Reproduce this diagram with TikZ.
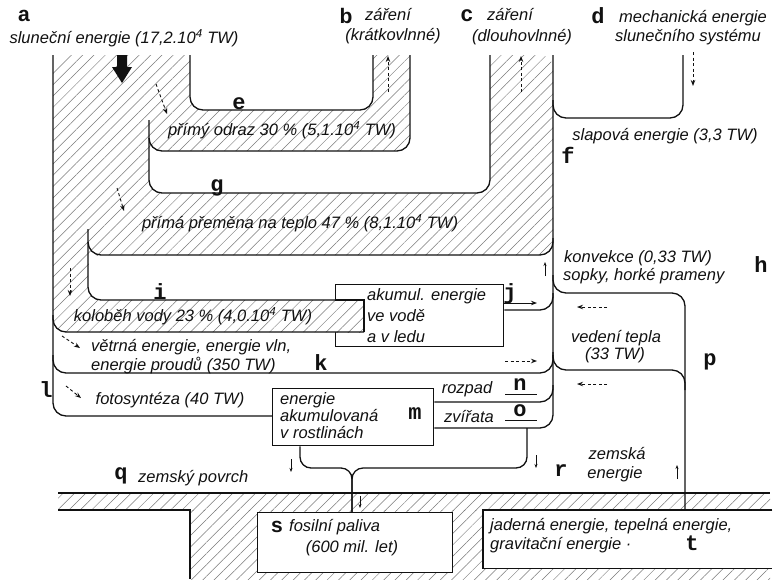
\documentclass[tikz,border=0pt]{standalone}
\usepackage{fontspec}
\setmainfont{Liberation Sans}
\setsansfont{Liberation Sans}
\setmonofont{Liberation Mono}
\usepackage{tikz}
\usetikzlibrary{arrows.meta,patterns.meta}
\definecolor{Ink}{HTML}{111111}
\definecolor{Hatch}{HTML}{7A7A7A}

\begin{document}
\begin{tikzpicture}[x=1pt,y=-1pt,
  hranice/.style={draw=Ink,line width=1.3pt,rounded corners=13pt},
  rovna/.style={draw=Ink,line width=1.3pt},
  srafa/.style={pattern={Lines[angle=45,distance=8pt,line width=0.5pt]},pattern color=Hatch},
  popis/.style={font=\fontsize{16.5}{19}\selectfont\itshape,text=Ink,inner sep=0pt},
  popisl/.style={popis,anchor=west,align=left},
  pismeno/.style={font=\fontsize{22}{22}\selectfont\ttfamily\bfseries,text=Ink,inner sep=0pt},
  pismenosf/.style={font=\fontsize{21}{21}\selectfont\sffamily\bfseries,text=Ink,inner sep=0pt},
  schranka/.style={draw=Ink,line width=1.3pt,fill=white,anchor=north west,inner sep=0pt},
  sipka/.style={draw=Ink,line width=0.9pt,-{Stealth[length=6pt,width=4.5pt]}},
  csipka/.style={sipka,dash pattern=on 3pt off 2.5pt},
  drobna/.style={draw=Ink,line width=1pt,-{Stealth[length=4pt,width=3pt]}}
]
\useasboundingbox (0,0) rectangle (778,579);
\fill[white] (0,0) rectangle (778,579);

\fill[srafa] (58,493) rectangle (770,510);
\fill[srafa] (190,510) rectangle (770,579);

\node[schranka,minimum width=168pt,minimum height=62pt] (akum) at (335,284) {};
\node[schranka,minimum width=161pt,minimum height=57pt] (rostl) at (272,388) {};
\node[schranka,minimum width=195pt,minimum height=60pt] (fosil) at (257,512) {};
\node[fill=white,anchor=north west,inner sep=0pt,minimum width=289pt,minimum height=58pt] (zemske) at (483,510) {};
\draw[rovna] (zemske.north east) -- (zemske.north west) -- (zemske.south west) -- (zemske.south east);

\path[srafa,preaction={fill=white},rounded corners=13pt] (364,332) -- (53,332) -- (53,55) -- (553,55) -- (553,255) -- (88,255) -- (88,300) -- (364,300) -- (364,332);
\path[srafa,preaction={fill=white}] (330,300) rectangle (364,332);
\fill[white,rounded corners=13pt] (190,40) -- (190,110) -- (373,110) -- (373,40) -- cycle;
\fill[white,rounded corners=13pt] (149,151) -- (410,151) -- (410,40) -- (490,40) -- (490,193) -- (149,193) -- (149,151);

\draw[hranice] (53,55) -- (53,416) -- (rostl.west |- 0,416);
\draw[hranice] (190,55) -- (190,110) -- (373,110) -- (373,55);
\draw[hranice] (149,120) -- (149,151) -- (410,151) -- (410,55);
\draw[hranice] (149,138) -- (149,193) -- (490,193) -- (490,55);
\draw[hranice] (553,55) -- (553,428) -- (rostl.east |- 0,428);
\draw[hranice] (88,229) -- (88,255) -- (553,255) -- (553,238);
\draw[hranice] (88,242) -- (88,300) -- (akum.west |- 0,300);
\draw[rovna] (akum.west |- 0,300) -- (364,300) -- (364,332);
\draw[hranice] (53,315) -- (53,332) -- (364,332);
\draw[hranice] (akum.east |- 0,310) -- (553,310) -- (553,293);
\draw[hranice] (53,355) -- (53,373) -- (553,373) -- (553,355);
\draw[hranice] (rostl.east |- 0,402) -- (553,402) -- (553,385);
\draw[hranice] (553,275) -- (553,293) -- (685,293) -- (685,0 |- zemske.north);
\draw[hranice] (553,352) -- (553,370) -- (685,370) -- (685,390);
\draw[hranice] (553,100) -- (553,118) -- (683,118) -- (683,55);
\draw[hranice,rounded corners=11pt] (rostl.south -| 300,0) -- (300,468) -- (352,468) -- (352,0 |- fosil.north);
\draw[hranice,rounded corners=11pt] (527,428) -- (527,468) -- (352,468) -- (352,0 |- fosil.north);

\draw[rovna] (58,493) -- (770,493);
\draw[rovna] (58,510) -- (190,510) -- (190,579);

\fill[Ink] (117,55) -- (127,55) -- (127,67) -- (132,67) -- (122,83) -- (112,67) -- (117,67) -- cycle;
\draw[csipka] (388,92) -- (388,56);
\draw[csipka] (521,92) -- (521,56);
\draw[csipka] (693,52) -- (693,86);
\draw[csipka] (156,84) -- (167,114);
\draw[csipka] (117,188) -- (124,211);
\draw[csipka] (70,268) -- (70,296);
\draw[csipka] (62,336) -- (80,348);
\draw[csipka] (66,386) -- (81,398);
\draw[sipka] (503,303) -- (537,303);
\draw[csipka] (505,361) -- (537,361);
\draw[rovna,line width=1pt] (505,394) -- (537,394);
\draw[rovna,line width=1pt] (505,420) -- (537,420);
\draw[csipka] (607,307) -- (577,307);
\draw[csipka] (607,384) -- (577,384);
\draw[drobna] (545,276) -- (545,262);
\draw[drobna] (677,479) -- (677,465);
\draw[drobna] (536,455) -- (536,468);
\draw[drobna] (291,459) -- (291,472);
\draw[drobna] (360,496) -- (360,508);

\node[pismenosf] (tA) at (24,16) {a};
\node[popis] (tSun) at (124,38) {sluneční energie (17,2.10\textsuperscript{4} TW)};
\node[pismenosf] (tB) at (346,16) {b};
\node[popis] (tB1) at (388,15) {záření};
\node[popis] (tB2) at (393,36) {(krátkovlnné)};
\node[pismeno] (tC) at (467,16) {c};
\node[popis] (tC1) at (510,15) {záření};
\node[popis] (tC2) at (522,37) {(dlouhovlnné)};
\node[pismeno] (tD) at (598,16) {d};
\node[popis] (tD1) at (693,18) {mechanická energie};
\node[popis] (tD2) at (688,37) {slunečního systému};

\node[pismeno,anchor=base] (tE) at (239,109) {e};
\node[popis] (tOdraz) at (282,130) {přímý odraz 30 \% (5,1.10\textsuperscript{4} TW)};
\node[pismeno,anchor=base] (tG) at (217,191) {g};
\node[popis] (tTeplo) at (300,223) {přímá přeměna na teplo 47 \% (8,1.10\textsuperscript{4} TW)};
\node[pismeno] (tF) at (568,155) {f};
\node[popis] (tSlap) at (665,136) {slapová energie (3,3 TW)};
\node[popisl] (tKonv) at (564,258) {konvekce (0,33 TW)};
\node[popisl] (tSopky) at (563,276) {sopky, horké prameny};
\node[pismeno] (tH) at (761,265) {h};

\node[pismeno,anchor=base] (tI) at (160,299) {i};
\node[popis] (tVoda) at (193,316) {koloběh vody 23 \% (4,0.10\textsuperscript{4} TW)};
\node[popisl,font=\fontsize{16.5}{21}\selectfont\itshape] (tAkum) at (367,316) {akumul. energie\\ve vodě\\a v ledu};
\node[pismeno] (tJ) at (510,294) {j};
\node[popisl] (tVitr) at (91,347) {větrná energie, energie vln,};
\node[popisl] (tProud) at (91,366) {energie proudů (350 TW)};
\node[pismeno] (tK) at (321,363) {k};
\node[pismeno] (tL) at (46,390) {l};
\node[popis] (tFoto) at (170,400) {fotosyntéza (40 TW)};
\node[popisl,font=\fontsize{16.5}{17}\selectfont\itshape] (tRostl) at (280,416) {energie\\akumulovaná\\v rostlinách};
\node[pismeno] (tM) at (415,414) {m};
\node[popis] (tRozpad) at (467,389) {rozpad};
\node[pismeno] (tN) at (520,385) {n};
\node[popis] (tZvirata) at (469,416) {zvířata};
\node[pismeno] (tO) at (520,411) {o};
\node[popis] (tVedeni) at (616,338) {vedení tepla};
\node[popis] (tVedeni2) at (615,355) {(33 TW)};
\node[pismeno] (tP) at (710,362) {p};
\node[popis] (tZem1) at (617,453) {zemská};
\node[popis] (tZem2) at (615,474) {energie};
\node[pismeno] (tR) at (561,471) {r};
\node[pismeno] (tQ) at (121,476) {q};
\node[popisl] (tPovrch) at (138,478) {zemský povrch};

\node[pismenosf] (tS) at (277,527) {s};
\node[popisl] (tFosil) at (289,527) {fosilní paliva};
\node[popis] (tFosil2) at (352,548) {(600 mil. let)};
\node[popisl] (tJadro) at (490,526) {jaderná energie, tepelná energie,};
\node[popisl] (tGrav) at (490,545) {gravitační energie ·};
\node[pismeno] (tT) at (692,543) {t};
\end{tikzpicture}
\end{document}
